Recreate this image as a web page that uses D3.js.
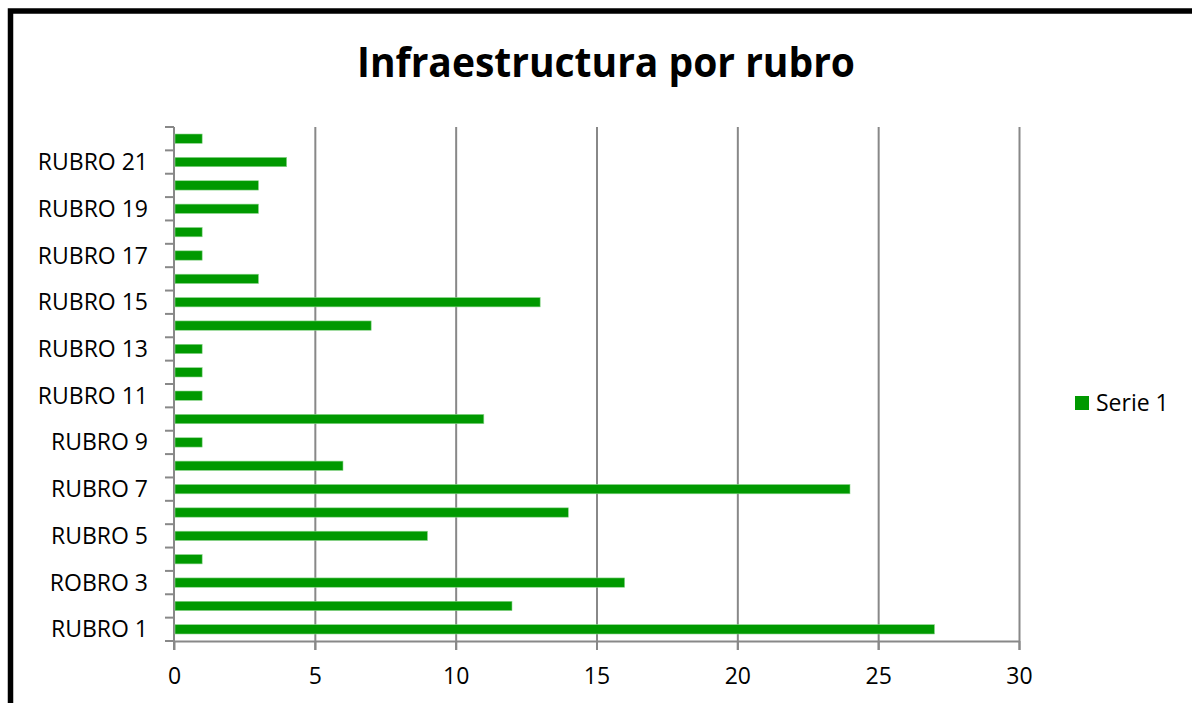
<!DOCTYPE html>
<html>
<head>
<meta charset="UTF-8">
<script src="https://d3js.org/d3.v7.min.js"></script>
<style>
  body { margin: 0; background: #fff; }
  svg text { font-family: "Open Sans", "Noto Sans", sans-serif; fill: #000; }
</style>
</head>
<body>
<div id="chart"></div>
<script>
// datos del gráfico
const categories = ["RUBRO 1", "RUBRO 2", "ROBRO 3", "RUBRO 4", "RUBRO 5", "RUBRO 6", "RUBRO 7",
  "RUBRO 8", "RUBRO 9", "RUBRO 10", "RUBRO 11", "RUBRO 12", "RUBRO 13", "RUBRO 14", "RUBRO 15",
  "RUBRO 16", "RUBRO 17", "RUBRO 18", "RUBRO 19", "RUBRO 20", "RUBRO 21", "RUBRO 22"];
const serie1 = [27, 12, 16, 1, 9, 14, 24, 6, 1, 11, 1, 1, 1, 7, 13, 3, 1, 1, 3, 3, 4, 1];
const xTicks = [0, 5, 10, 15, 20, 25, 30];
const seriesName = "Serie 1";
const title = "Infraestructura por rubro";

const width = 1192, height = 703;
const plot = { left: 174, right: 1019, top: 127, bottom: 641 };

const svg = d3.select("#chart").append("svg")
  .attr("width", width).attr("height", height);

// marco negro
svg.append("rect")
  .attr("x", 10.5).attr("y", 11).attr("width", 1400).attr("height", 1000)
  .attr("fill", "none").attr("stroke", "#000").attr("stroke-width", 5.5);

// título
svg.append("text")
  .attr("x", 606).attr("y", 77)
  .attr("text-anchor", "middle")
  .attr("font-size", 42).attr("font-weight", "bold")
  .attr("textLength", 498).attr("lengthAdjust", "spacingAndGlyphs")
  .text(title);

const x = d3.scaleLinear().domain([0, 30]).range([plot.left, plot.right]);
const y = d3.scaleBand().domain(categories)
  .range([plot.bottom, plot.top]).paddingInner(0.6).paddingOuter(0.3);

// líneas de cuadrícula verticales
svg.append("g").selectAll("line")
  .data(xTicks.filter(d => d > 0))
  .join("line")
  .attr("x1", d => x(d) + 0.5).attr("x2", d => x(d) + 0.5)
  .attr("y1", plot.top).attr("y2", plot.bottom + 9)
  .attr("stroke", "#888").attr("stroke-width", 2);

// eje X
const xAxis = svg.append("g")
  .attr("transform", `translate(0,${plot.bottom})`)
  .call(d3.axisBottom(x).tickValues(xTicks).tickSize(9).tickSizeOuter(0).tickPadding(18));
xAxis.select(".domain").attr("stroke", "#888").attr("stroke-width", 2);
xAxis.selectAll(".tick line").attr("stroke", "#888").attr("stroke-width", 2);
xAxis.selectAll(".tick text").attr("font-size", 23)
  .style("font-family", "'Open Sans', 'Noto Sans', sans-serif");

// eje Y: marcas en los límites de cada categoría
const step = (plot.bottom - plot.top) / categories.length;
const bounds = d3.range(categories.length + 1).map(i => plot.bottom - i * step);
svg.append("g").selectAll("line")
  .data(bounds)
  .join("line")
  .attr("x1", plot.left - 9).attr("x2", plot.left)
  .attr("y1", d => d).attr("y2", d => d)
  .attr("stroke", "#888").attr("stroke-width", 2);
svg.append("line")
  .attr("x1", plot.left).attr("x2", plot.left)
  .attr("y1", plot.top).attr("y2", plot.bottom + 9)
  .attr("stroke", "#888").attr("stroke-width", 2);

// etiquetas de categoría (una sí, una no)
svg.append("g").selectAll("text")
  .data(categories.filter((d, i) => i % 2 === 0))
  .join("text")
  .attr("x", 148)
  .attr("y", d => y(d) + y.bandwidth() / 2)
  .attr("dy", "0.35em")
  .attr("text-anchor", "end")
  .attr("font-size", 23)
  .text(d => d);

// barras
svg.append("g").selectAll("rect")
  .data(serie1)
  .join("rect")
  .attr("x", x(0) + 1)
  .attr("y", (d, i) => y(categories[i]))
  .attr("width", d => x(d) - x(0) - 1)
  .attr("height", y.bandwidth())
  .attr("fill", "#009900")
  .attr("stroke", "#8fd68f").attr("stroke-width", 0.6);

// leyenda
const legend = svg.append("g").attr("transform", "translate(1075,396)");
legend.append("rect").attr("width", 14).attr("height", 14).attr("fill", "#009900");
legend.append("text").attr("x", 21).attr("y", 7).attr("dy", "0.35em")
  .attr("font-size", 23).text(seriesName);
</script>
</body>
</html>
